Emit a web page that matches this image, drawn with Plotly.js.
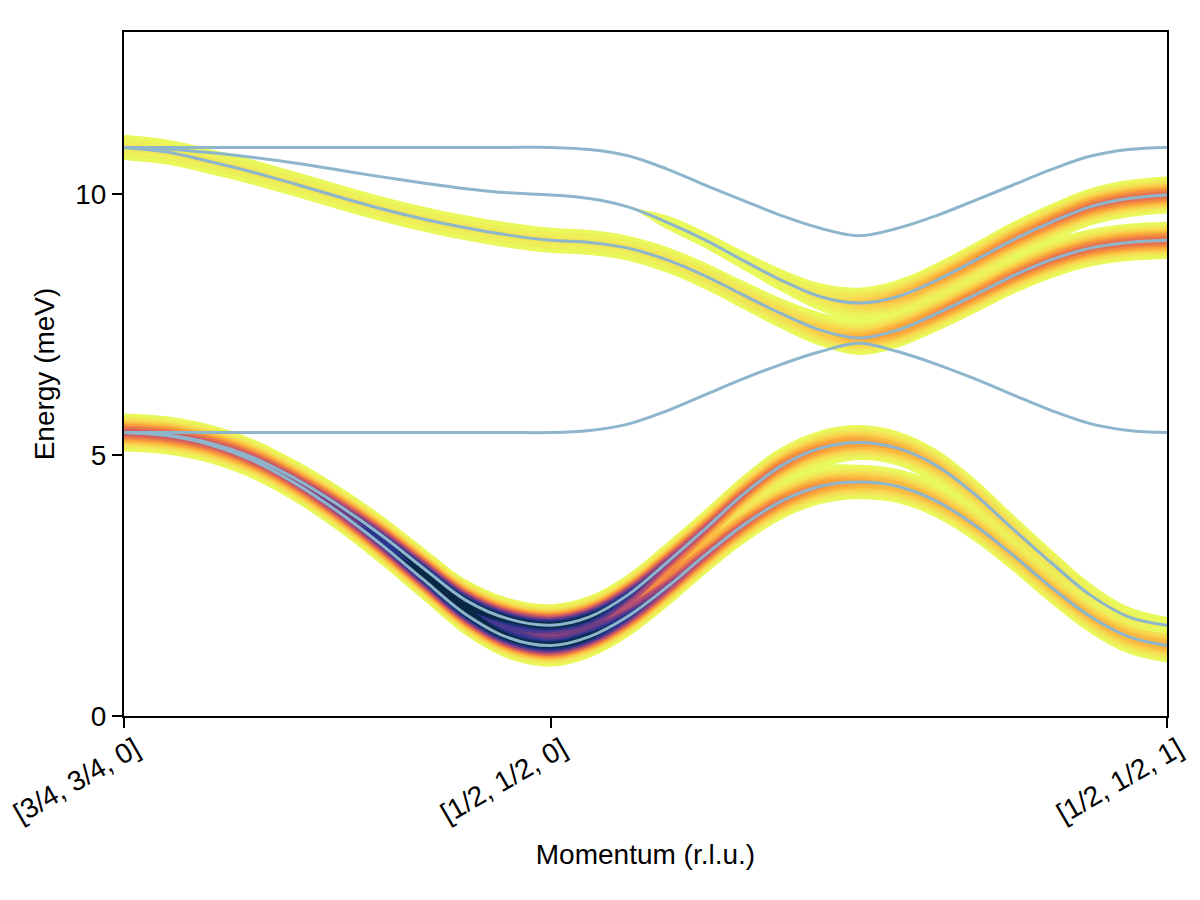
<!DOCTYPE html>
<html>
<head>
<meta charset="utf-8">
<script src="https://cdn.plot.ly/plotly-3.0.1.min.js"></script>
<style>
html, body { margin: 0; padding: 0; background: #ffffff; }
#chart { width: 1200px; height: 900px; }
</style>
</head>
<body>
<div id="chart"></div>
<script>
// ---------------- data ----------------
const momentum = [0, 0.0409, 0.0819, 0.1228, 0.1638, 0.2047, 0.2456, 0.2866, 0.3275, 0.3685, 0.4094,
  0.4463, 0.4832, 0.5201, 0.5570, 0.5940, 0.6309, 0.6678, 0.7047, 0.7416, 0.7785, 0.8154, 0.8524,
  0.8893, 0.9262, 0.9631, 1.0];
const momentumTicks = [0, 0.4094, 1];
const momentumLabels = ['[3/4, 3/4, 0]', '[1/2, 1/2, 0]', '[1/2, 1/2, 1]'];
const energyTicks = [0, 5, 10];
const energyLabels = ['0', '5', '10'];

const energy1 = [10.89, 10.89, 10.89, 10.89, 10.89, 10.89, 10.89, 10.89, 10.89, 10.89, 10.89,
  10.85, 10.73, 10.48, 10.17, 9.87, 9.58, 9.34, 9.20, 9.34, 9.58, 9.87, 10.17, 10.47, 10.72, 10.85, 10.89];
const energy2 = [10.89, 10.86, 10.79, 10.70, 10.59, 10.46, 10.33, 10.21, 10.10, 10.02, 9.98,
  9.91, 9.75, 9.46, 9.12, 8.72, 8.34, 8.03, 7.91, 8.03, 8.34, 8.72, 9.12, 9.46, 9.75, 9.91, 9.98];
const energy3 = [10.89, 10.80, 10.62, 10.42, 10.19, 9.95, 9.72, 9.52, 9.35, 9.21, 9.11,
  9.07, 8.96, 8.74, 8.43, 8.06, 7.70, 7.39, 7.24, 7.39, 7.70, 8.06, 8.43, 8.74, 8.96, 9.07, 9.11];
const energy4 = [5.43, 5.43, 5.43, 5.43, 5.43, 5.43, 5.43, 5.43, 5.43, 5.43, 5.43,
  5.47, 5.59, 5.84, 6.15, 6.46, 6.74, 6.98, 7.14, 6.98, 6.74, 6.46, 6.15, 5.85, 5.60, 5.47, 5.43];
const energy5 = [5.43, 5.38, 5.23, 4.96, 4.55, 4.05, 3.48, 2.84, 2.22, 1.86, 1.74,
  1.90, 2.32, 2.93, 3.58, 4.25, 4.80, 5.13, 5.24, 5.13, 4.80, 4.25, 3.58, 2.93, 2.32, 1.90, 1.74];
const energy6 = [5.43, 5.37, 5.20, 4.90, 4.46, 3.92, 3.30, 2.62, 1.95, 1.50, 1.35,
  1.52, 1.91, 2.46, 3.08, 3.66, 4.12, 4.40, 4.48, 4.40, 4.12, 3.66, 3.08, 2.46, 1.91, 1.52, 1.35];

const intensity1 = [0, 0, 0, 0, 0, 0, 0, 0, 0, 0, 0, 0, 0, 0, 0, 0, 0, 0, 0, 0, 0, 0, 0, 0, 0, 0, 0];
const intensity2 = [0, 0, 0, 0, 0, 0, 0, 0, 0, 0, 0,
  0, 0, 0.008, 0.01, 0.013, 0.02, 0.04, 0.08, 0.13, 0.17, 0.21, 0.24, 0.27, 0.29, 0.30, 0.30];
const intensity3 = [0.03, 0.03, 0.03, 0.03, 0.03, 0.03, 0.03, 0.03, 0.03, 0.03, 0.03,
  0.03, 0.03, 0.035, 0.04, 0.05, 0.07, 0.10, 0.15, 0.19, 0.22, 0.25, 0.27, 0.29, 0.30, 0.31, 0.31];
const intensity4 = [0, 0, 0, 0, 0, 0, 0, 0, 0, 0, 0, 0, 0, 0, 0, 0, 0, 0, 0, 0, 0, 0, 0, 0, 0, 0, 0];
const intensity5 = [0.185, 0.19, 0.20, 0.23, 0.28, 0.40, 0.60, 0.80, 0.95, 1.0, 1.0,
  1.0, 0.85, 0.60, 0.45, 0.35, 0.27, 0.21, 0.18, 0.15, 0.12, 0.09, 0.06, 0.04, 0.025, 0.015, 0.01];
const intensity6 = [0.185, 0.19, 0.20, 0.23, 0.28, 0.40, 0.60, 0.80, 0.95, 1.0, 1.0,
  1.0, 0.85, 0.60, 0.45, 0.35, 0.27, 0.21, 0.16, 0.14, 0.13, 0.12, 0.11, 0.12, 0.13, 0.14, 0.15];

// ---------------- style ----------------
const broadening = 0.1225;      // gaussian sigma (meV)
const levels = [0.0044, 0.012, 0.025, 0.045, 0.07, 0.1, 0.14, 0.19, 0.25, 0.32, 0.4, 0.48, 0.57, 0.66, 0.75, 0.84, 0.92];
const cmapStops = [
  [0.00, [232, 250, 91]], [0.05, [245, 222, 84]], [0.10, [250, 196, 69]], [0.15, [250, 172, 60]],
  [0.20, [246, 149, 61]], [0.25, [238, 127, 70]], [0.30, [227, 108, 82]], [0.35, [213, 96, 95]],
  [0.40, [196, 86, 107]], [0.45, [178, 79, 117]], [0.50, [158, 72, 124]], [0.55, [138, 66, 128]],
  [0.60, [117, 62, 131]], [0.65, [96, 59, 135]], [0.70, [76, 57, 141]], [0.75, [57, 55, 146]],
  [0.80, [39, 53, 141]], [0.85, [26, 50, 122]], [0.90, [17, 46, 99]], [0.95, [10, 41, 74]],
  [1.00, [4, 35, 51]]
];
const lineColor = '#8db6cd';
const fontFamily = 'Liberation Sans, Arial, Helvetica, sans-serif';

function colorAt(p) {
  p = Math.max(0, Math.min(1, p));
  for (let j = 0; j < cmapStops.length - 1; j++) {
    const a = cmapStops[j], b = cmapStops[j + 1];
    if (p >= a[0] && p <= b[0]) {
      const f = (p - a[0]) / (b[0] - a[0]);
      const c = a[1].map((v, m) => Math.round(v + f * (b[1][m] - v)));
      return 'rgb(' + c.join(',') + ')';
    }
  }
  return 'rgb(4,35,51)';
}

const energies = [energy1, energy2, energy3, energy4, energy5, energy6];
const intensities = [intensity1, intensity2, intensity3, intensity4, intensity5, intensity6];
const active = [];
intensities.forEach((arr, b) => { if (arr.some(v => v > 0)) active.push(b); });

function spectrum(i, E) {
  let s = 0;
  for (const b of active) {
    const I = intensities[b][i];
    if (I <= 0) continue;
    const d = E - energies[b][i];
    s += I * Math.exp(-d * d / (2 * broadening * broadening));
  }
  return s;
}

const traces = [];
levels.forEach((t, k) => {
  const next = k + 1 < levels.length ? levels[k + 1] : 1.0;
  const col = colorAt(k === 0 ? 0.004 : (t + next) / 2);
  for (const b of active) {
    const lo = [], hi = [];
    for (let i = 0; i < momentum.length; i++) {
      const E0 = energies[b][i];
      if (intensities[b][i] <= 0 || spectrum(i, E0) < t) { lo.push(E0); hi.push(E0); continue; }
      let capUp = Infinity, capDn = -Infinity;
      for (const c of active) {
        if (c === b || intensities[c][i] <= 0) continue;
        const Ec = energies[c][i];
        if (Ec > E0 || (Ec === E0 && c < b)) capUp = Math.min(capUp, (E0 + Ec) / 2);
        if (Ec < E0 || (Ec === E0 && c > b)) capDn = Math.max(capDn, (E0 + Ec) / 2);
      }
      const step = 0.002;
      let up = E0;
      while (up + step <= capUp && spectrum(i, up + step) >= t) up += step;
      if (up + step > capUp && capUp < Infinity && spectrum(i, capUp) >= t) up = capUp + 0.02;
      let dn = E0;
      while (dn - step >= capDn && spectrum(i, dn - step) >= t) dn -= step;
      if (dn - step < capDn && capDn > -Infinity && spectrum(i, capDn) >= t) dn = capDn - 0.02;
      lo.push(dn); hi.push(up);
    }
    traces.push({ x: momentum, y: lo, type: 'scatter', mode: 'lines',
      line: { width: 0, shape: 'spline', color: col }, hoverinfo: 'skip', showlegend: false });
    traces.push({ x: momentum, y: hi, type: 'scatter', mode: 'lines',
      line: { width: 0, shape: 'spline', color: col }, fill: 'tonexty', fillcolor: col,
      hoverinfo: 'skip', showlegend: false });
  }
});

energies.forEach(arr => {
  traces.push({ x: momentum, y: arr, type: 'scatter', mode: 'lines',
    line: { color: lineColor, width: 3, shape: 'spline' }, hoverinfo: 'skip', showlegend: false });
});

const axisCommon = {
  ticks: 'outside', ticklen: 10, tickwidth: 2, tickcolor: '#000',
  showline: true, linewidth: 2, linecolor: '#000', mirror: true,
  showgrid: false, zeroline: false, automargin: false,
  ticklabeloverflow: 'allow',
  tickfont: { family: fontFamily, size: 28, color: '#000' }
};

const layout = {
  width: 1200, height: 900,
  margin: { l: 124, r: 33, t: 32, b: 184 },
  paper_bgcolor: '#ffffff', plot_bgcolor: '#ffffff',
  font: { family: fontFamily, size: 28, color: '#000' },
  showlegend: false,
  xaxis: Object.assign({}, axisCommon, {
    range: [0, 1], tickmode: 'array', tickvals: momentumTicks, ticktext: momentumLabels, tickangle: -30,
    ticklabelshift: 11, ticklabelstandoff: -6,
    tickfont: { family: fontFamily, size: 28, color: '#000' },
    title: { text: 'Momentum (r.l.u.)', font: { family: fontFamily, size: 28, color: '#000' }, standoff: 16 }
  }),
  yaxis: Object.assign({}, axisCommon, {
    range: [0, 13.1], tickmode: 'array', tickvals: energyTicks, ticktext: energyLabels,
    title: { text: 'Energy (meV)', font: { family: fontFamily, size: 28, color: '#000' }, standoff: 12 }
  })
};

Plotly.newPlot('chart', traces, layout, { displayModeBar: false, staticPlot: true });
</script>
</body>
</html>
